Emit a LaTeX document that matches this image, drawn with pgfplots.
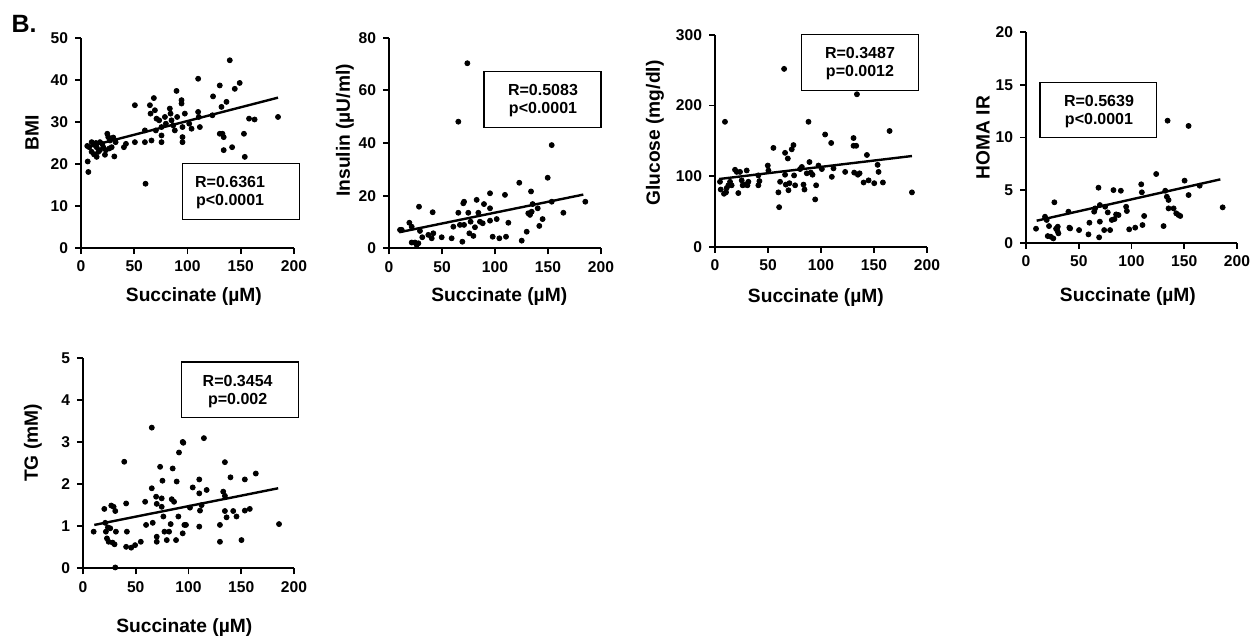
\documentclass[border=0pt]{standalone}
\usepackage{fontspec}
\setmainfont{Liberation Sans}
\usepackage{pgfplots}
\pgfplotsset{compat=1.18}

\pgfplotsset{
  sc/.style={
    scale only axis,
    anchor=south west,
    axis lines=left,
    axis line style={-, line width=1pt},
    xmin=0, xmax=200, ymin=0,
    xtick={0,50,100,150,200},
    tick align=outside,
    major tick length=3pt,
    every tick/.style={black, line width=0.9pt},
    tick label style={font=\bfseries\fontsize{7.8}{9}\selectfont},
    /pgf/number format/assume math mode=true,
    label style={font=\bfseries\fontsize{9.6}{11}\selectfont},
    xlabel={Succinate (µM)},
    clip=false,
  },
  dots/.style={only marks, mark=*, mark size=1.25pt, black},
  fit/.style={no marks, black, line width=1.2pt},
}
\tikzset{boxtxt/.style={font=\bfseries\fontsize{8}{9}\selectfont, align=center}}

\begin{document}
\begin{tikzpicture}
\path[use as bounding box] (0,0) rectangle (626.5pt,319pt);
\node[font=\bfseries\fontsize{12.5}{14}\selectfont] at (12pt,307pt) {B.};

% BMI
\begin{axis}[sc, at={(40.5pt,195pt)}, width=106.5pt, height=105pt,
  ymax=50, ytick={0,10,20,30,40,50}, ylabel={BMI},
  ylabel style={at={(axis description cs:-0.23,0.55)}, anchor=center},
  xlabel style={at={(axis description cs:0.53,-0.233)}, anchor=center}]
\addplot[dots] coordinates {
(6.9,18.1)(6.3,20.6)(5.9,24.3)(7.8,24.0)(10,25.2)(12,24.6)(14,25)(10,22.9)(12.2,22.3)(14.7,21.7)
(14.7,24.0)(17.8,25.2)(16.3,22.9)(17.8,23.3)(20.9,24.0)(22.5,22.2)(23.4,23.3)(24.7,27.2)(25.6,26.4)
(26.6,23.7)(27.2,25.6)(28.8,24.0)(30.3,26.3)(31.3,21.8)(32.5,25.2)(20,24.8)(40.3,24.0)(42.2,24.8)
(50.6,34.0)(50.6,25.2)(60.6,15.3)(60,25.2)(60,28.0)(64.7,34.0)(65.3,32.0)(66.2,25.6)(68.4,35.7)
(69.4,32.8)(70.9,30.8)(70.3,28.0)(73.4,30.4)(75.6,28.8)(75.6,26.8)(75.6,25.2)(78.8,31.2)(79.7,29.6)
(83.4,33.2)(84.1,32.0)(85,30.4)(86.6,29.2)(88.1,28.0)(89.7,37.4)(90.3,31.2)(94.4,35.2)(94.4,34.4)
(95.3,28.8)(95.3,26.4)(95.3,25.2)(97.5,32.0)(101.6,29.6)(103.8,28.4)(110,40.3)(110,32.4)(110.6,31.2)
(111.6,28.8)(123.4,31.6)(124,36.1)(130.3,38.7)(131.9,33.6)(130.3,27.2)(132.8,27.2)(134,26.4)
(134,23.3)(136.6,34.8)(139.7,44.7)(141.9,24.0)(144.4,37.9)(149,39.3)(153,27.2)(153.8,21.7)
(157.8,30.8)(163,30.6)(185,31.2)};
\addplot[fit] coordinates {(4.7,24.0)(185,35.8)};
\draw[line width=0.6pt] (axis cs:95,6.7) rectangle (axis cs:205,20.2);
\node[boxtxt] at (axis cs:140,13.1) {R=0.6361\\p<0.0001};
\end{axis}

% Insulin
\begin{axis}[sc, at={(194.5pt,194.85pt)}, width=106pt, height=105.3pt,
  ymax=80, ytick={0,20,40,60,80}, ylabel={Insulin (µU/ml)},
  ylabel style={at={(axis description cs:-0.208,0.56)}, anchor=center},
  xlabel style={at={(axis description cs:0.52,-0.231)}, anchor=center}]
\addplot[dots] coordinates {
(10.4,7.0)(12,7.0)(19.2,9.7)(21.4,8.2)(21.4,2.2)(24.5,2.2)(26.1,1.3)(27.7,1.9)(28.3,15.8)(29.2,6.6)
(31.4,4.2)(37.1,5.1)(41.2,13.7)(40.3,3.8)(41.8,5.7)(49.7,4.2)(59.1,3.8)(60.7,8.2)(65.4,13.5)
(65.4,48.1)(66.9,8.9)(69.2,2.5)(70.1,17.1)(70.8,17.7)(70.8,8.9)(73.9,70.3)(74.8,13.5)(75.8,5.7)
(77.0,10.1)(79.6,4.7)(81.1,8.0)(82.7,18.4)(84.3,13.5)(85.8,10.1)(88.4,9.5)(89.6,16.8)(95.3,20.9)
(95.3,15.2)(95.3,10.5)(97.8,4.4)(101.6,11.1)(104.1,3.8)(109.4,20.3)(110.4,4.4)(112.6,9.7)
(122.9,24.9)(125.2,2.9)(129.9,6.3)(131.4,13.3)(133,12.7)(134,21.6)(134.6,13.9)(135.5,16.8)
(140.3,15.2)(141.8,8.5)(144.9,11.1)(149.7,26.8)(153.5,39.2)(153.5,17.7)(164.5,13.5)(185.2,17.7)};
\addplot[fit] coordinates {(9.7,6.1)(183.3,20.4)};
\draw[line width=0.6pt] (axis cs:89.6,46.0) rectangle (axis cs:200,67.1);
\node[boxtxt] at (axis cs:145.3,56.2) {R=0.5083\\p<0.0001};
\end{axis}

% Glucose
\begin{axis}[sc, at={(357.5pt,195.65pt)}, width=106pt, height=105.85pt,
  ymax=300, ytick={0,100,200,300}, ylabel={Glucose (mg/dl)},
  ylabel style={at={(axis description cs:-0.283,0.537)}, anchor=center},
  xlabel style={at={(axis description cs:0.476,-0.238)}, anchor=center}]
\addplot[dots] coordinates {
(4.7,92)(5.4,81)(9.4,177)(8.5,75)(10.4,77)(11,83)(12.6,87)(14.2,92)(15.7,87)(18.9,109)(20.5,106)
(22,76)(23.6,106)(25.2,94)(26.1,87)(28.3,88)(29.9,108)(30.6,87)(31.5,92)(40.9,101)(40.9,87)
(41.9,93)(49.8,115)(50.4,108)(55.1,140)(59.8,77)(60.5,56)(61.4,92)(65.2,252)(66.1,133)(66.1,102)
(66.8,88)(68.7,125)(69.3,80)(70.2,90)(72.4,138)(74,144)(74.6,101)(75.6,87)(80.3,110)(81.9,113)
(83.5,88)(84.4,81)(86.6,104)(88.2,177)(89.1,120)(90.4,105)(92,102)(94.5,67)(95.4,87)(97.6,115)
(100.8,110)(103.9,159)(109.6,147)(110.2,99)(111.8,111)(122.8,106)(130.7,154)(130.7,143)(131.3,105)
(133.2,143)(133.9,216)(134.8,102)(136.4,104)(140.2,91)(143.3,130)(144.9,94)(150.2,90)(153.4,116)
(154.3,106)(158.4,91)(164.7,164)(185.8,77)};
\addplot[fit] coordinates {(3.8,95.9)(185.8,128.5)};
\draw[line width=0.6pt] (axis cs:81.8,221) rectangle (axis cs:191.8,301);
\node[boxtxt] at (axis cs:136.8,259.3) {R=0.3487\\p=0.0012};
\end{axis}

% HOMA IR
\begin{axis}[sc, at={(513pt,197.65pt)}, width=105.5pt, height=105.2pt,
  ymax=20, ytick={0,5,10,15,20}, ylabel={HOMA IR},
  ylabel style={at={(axis description cs:-0.204,0.50)}, anchor=center},
  xlabel style={at={(axis description cs:0.483,-0.258)}, anchor=center}]
\addplot[dots] coordinates {
(9.5,1.33)(18,2.47)(19.6,2.16)(20.6,0.63)(21.8,1.58)(23.4,0.57)(25.9,0.41)(26.9,3.84)(28.5,1.33)
(29.7,1.14)(30.7,0.89)(30.1,1.52)(40.2,2.95)(41.1,1.43)(41.8,1.36)(50.3,1.20)(59.2,0.79)(60.1,1.90)
(64.6,2.95)(65.5,3.26)(68.7,5.23)(69.3,0.51)(70,2.0)(70,3.58)(74.1,1.2)(75,3.42)(77.5,2.88)
(79.7,1.2)(81.3,2.16)(82.9,5.0)(83.9,2.25)(85.4,2.69)(87.7,2.63)(89.9,4.94)(94.9,3.42)(95.6,3.01)
(97.8,1.27)(103.5,1.43)(109.2,5.55)(109.8,4.79)(110.4,1.68)(112,2.54)(123.4,6.53)(130.4,1.58)
(132,4.94)(133.5,4.37)(134.2,11.6)(135.1,4.06)(135.1,3.26)(139.9,3.26)(142.4,2.79)(144.6,2.63)
(146.2,2.54)(150.3,5.9)(154.1,11.1)(154.1,4.53)(164.6,5.42)(186.4,3.36)};
\addplot[fit] coordinates {(10.1,2.09)(184.2,6.02)};
\draw[line width=0.6pt] (axis cs:13.3,9.98) rectangle (axis cs:123.9,15.25);
\node[boxtxt] at (axis cs:69.2,12.45) {R=0.5639\\p<0.0001};
\end{axis}

% TG
\begin{axis}[sc, at={(41.5pt,34.85pt)}, width=105.5pt, height=105.3pt,
  ymax=5, ytick={0,1,2,3,4,5}, ylabel={TG (mM)},
  ylabel style={at={(axis description cs:-0.237,0.595)}, anchor=center},
  xlabel style={at={(axis description cs:0.48,-0.283)}, anchor=center}]
\addplot[dots] coordinates {
(10.1,0.87)(20.2,1.41)(21.1,1.08)(21.7,0.87)(22.7,0.71)(23.6,0.97)(24.3,0.63)(25.8,0.95)(26.8,1.49)
(28,0.61)(29,1.46)(29.9,0.57)(30.6,1.36)(30.6,0.02)(31.2,0.87)(39.1,2.53)(40.9,1.54)(40.9,0.51)
(41.6,0.87)(45.7,0.49)(49.4,0.55)(54.8,0.63)(58.9,1.58)(59.8,1.03)(65.2,3.34)(65.2,1.9)(66.1,1.08)
(69.3,1.7)(69.9,1.53)(69.9,0.75)(69.9,0.63)(73.1,2.41)(74.6,1.66)(74.6,1.46)(75.3,2.08)(76.2,1.23)
(77.2,0.87)(79.4,0.67)(81.6,0.87)(83.1,1.05)(84.1,1.64)(85,2.37)(86.3,1.58)(88.2,0.67)(88.8,2.06)
(90.4,1.23)(91,2.75)(94.5,0.83)(94.5,3.0)(95.1,2.98)(96.1,1.03)(97.6,1.03)(101.4,1.44)(104,1.92)
(110.2,2.11)(110.2,1.78)(110.2,0.99)(110.9,1.37)(112.4,1.5)(114.6,3.09)(117.2,1.86)(129.8,1.03)
(129.8,0.63)(132.9,1.82)(134.5,2.52)(134.5,1.72)(134.5,1.36)(136.1,1.21)(139.8,2.16)(142.4,1.36)
(145.5,1.23)(150.2,0.67)(153.4,2.11)(153.4,1.37)(158.1,1.41)(163.8,2.25)(185.8,1.05)};
\addplot[fit] coordinates {(10.7,1.03)(185,1.9)};
\draw[line width=0.6pt] (axis cs:93.6,3.58) rectangle (axis cs:204,4.9);
\node[boxtxt] at (axis cs:146.6,4.2) {R=0.3454\\p=0.002};
\end{axis}
\end{tikzpicture}
\end{document}
